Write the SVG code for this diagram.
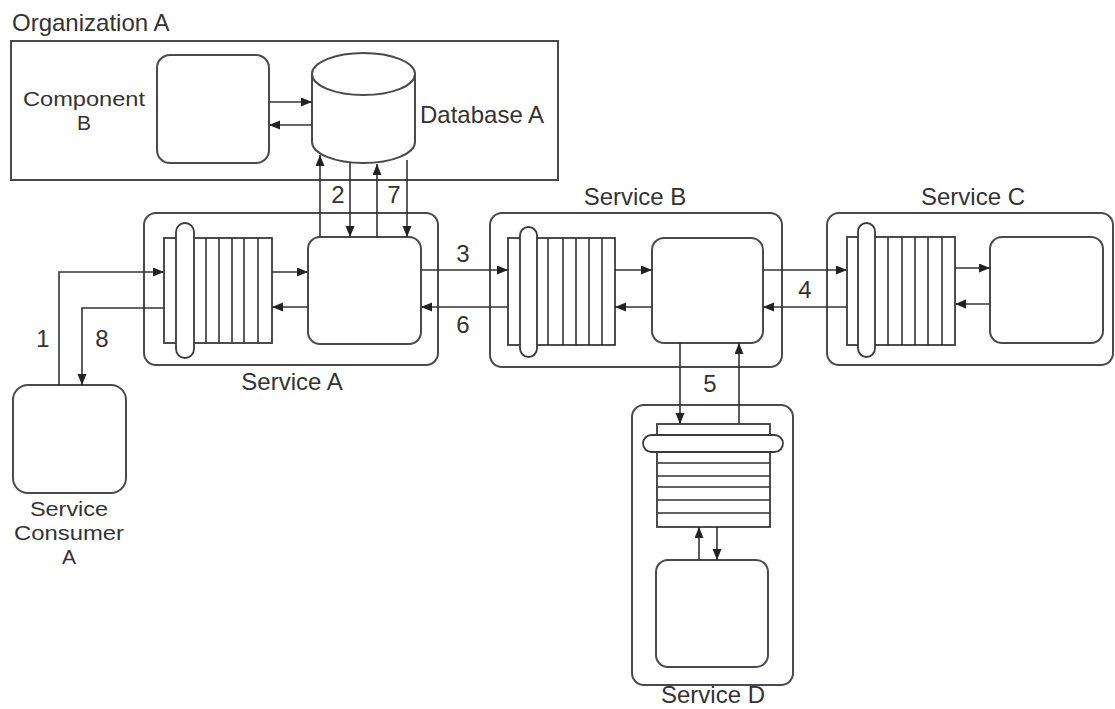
<svg xmlns="http://www.w3.org/2000/svg" width="1115" height="709" viewBox="0 0 1115 709">
<style>
.box{fill:#fff;stroke:#4a4a4a;stroke-width:2}
.ln{fill:none;stroke:#333;stroke-width:1.6}
.ar{fill:none;stroke:#333;stroke-width:1.6;marker-end:url(#ah)}
.q{fill:#fff;stroke:#3a3a3a;stroke-width:1.8}
.t{font-family:"Liberation Sans",Arial,sans-serif;font-size:24px;fill:#333}
.s{font-size:21px}
.m{text-anchor:middle}
</style>
<defs>
<marker id="ah" markerUnits="userSpaceOnUse" markerWidth="12" markerHeight="10" refX="11" refY="4.5" orient="auto">
<path d="M0,0 L11,4.5 L0,9 z" fill="#222"/>
</marker>
</defs>
<rect width="1115" height="709" fill="#fff"/>

<g id="organization-a">
<text class="t" x="12" y="31">Organization A</text>
<rect class="box" x="11" y="41" width="547" height="139"/>
</g>

<g id="component-b">
<rect class="box" x="157" y="55" width="112" height="108" rx="13"/>
<text class="t s m" x="84" y="106" textLength="122" lengthAdjust="spacingAndGlyphs">Component</text>
<text class="t s m" x="84" y="130">B</text>
</g>

<g id="database-a">
<path class="box" d="M312,74 L312,142 A51.5,21 0 0 0 415,142 L415,74"/>
<ellipse class="box" cx="363.5" cy="74" rx="51.5" ry="21"/>
<text class="t" x="420" y="123">Database A</text>
</g>

<g id="service-a">
<rect class="box" x="144" y="213" width="294" height="152" rx="12"/>
<rect class="q" x="164" y="238" width="108" height="105"/>
<path class="ln" d="M206,238V343M219,238V343M232,238V343M244,238V343M258,238V343"/>
<rect class="q" x="176" y="223" width="18" height="135" rx="9"/>
<rect class="box" x="308" y="237" width="113" height="107" rx="12"/>
<text class="t m" x="292" y="390">Service A</text>
</g>

<g id="service-b">
<rect class="box" x="490" y="213" width="292" height="154" rx="12"/>
<rect class="q" x="508" y="238" width="107" height="107"/>
<path class="ln" d="M548,238V345M563,238V345M576,238V345M589,238V345M602,238V345"/>
<rect class="q" x="520" y="227" width="17" height="130" rx="8.5"/>
<rect class="box" x="652" y="238" width="111" height="105" rx="12"/>
<text class="t m" x="635" y="205">Service B</text>
</g>

<g id="service-c">
<rect class="box" x="827" y="213" width="286" height="152" rx="12"/>
<rect class="q" x="847" y="237" width="108" height="108"/>
<path class="ln" d="M888,237V345M902,237V345M915,237V345M928,237V345M942,237V345"/>
<rect class="q" x="858" y="223" width="17" height="134" rx="8.5"/>
<rect class="box" x="990" y="237" width="113" height="106" rx="12"/>
<text class="t m" x="973" y="205">Service C</text>
</g>

<g id="service-d">
<rect class="box" x="632" y="405" width="161" height="280" rx="12"/>
<rect class="q" x="657" y="424" width="113" height="103"/>
<path class="ln" d="M657,463H770M657,476H770M657,487H770M657,500H770M657,513H770"/>
<rect class="q" x="643" y="435" width="140" height="17" rx="8.5"/>
<rect class="box" x="656" y="560" width="112" height="107" rx="12"/>
<text class="t m" x="713" y="703">Service D</text>
</g>

<g id="service-consumer-a">
<rect class="box" x="13" y="385" width="113" height="108" rx="15"/>
<text class="t s m" x="69" y="516" textLength="78" lengthAdjust="spacingAndGlyphs">Service</text>
<text class="t s m" x="69" y="540" textLength="110" lengthAdjust="spacingAndGlyphs">Consumer</text>
<text class="t s m" x="69" y="564">A</text>
</g>

<g id="connectors">
<path class="ar" d="M269,102H312"/>
<path class="ar" d="M312,125H269"/>
<path class="ar" d="M320,237V155"/>
<path class="ar" d="M350,163V237"/>
<path class="ar" d="M377,237V164"/>
<path class="ar" d="M407,160V237"/>
<path class="ar" d="M59,385V272H164"/>
<path class="ar" d="M164,308H82V385"/>
<path class="ar" d="M272,272H308"/>
<path class="ar" d="M308,307H272"/>
<path class="ar" d="M421,270H508"/>
<path class="ar" d="M508,307H421"/>
<path class="ar" d="M615,270H652"/>
<path class="ar" d="M652,307H615"/>
<path class="ar" d="M763,270H847"/>
<path class="ar" d="M847,307H763"/>
<path class="ar" d="M955,268H990"/>
<path class="ar" d="M990,304H955"/>
<path class="ar" d="M680,343V424"/>
<path class="ar" d="M739,424V343"/>
<path class="ar" d="M699,560V527"/>
<path class="ar" d="M717,527V560"/>
<text class="t m" x="338" y="203">2</text>
<text class="t m" x="394" y="203">7</text>
<text class="t m" x="43" y="347">1</text>
<text class="t m" x="102" y="347">8</text>
<text class="t m" x="463" y="262">3</text>
<text class="t m" x="463" y="333">6</text>
<text class="t m" x="805" y="298">4</text>
<text class="t m" x="710" y="392">5</text>
</g>
</svg>
